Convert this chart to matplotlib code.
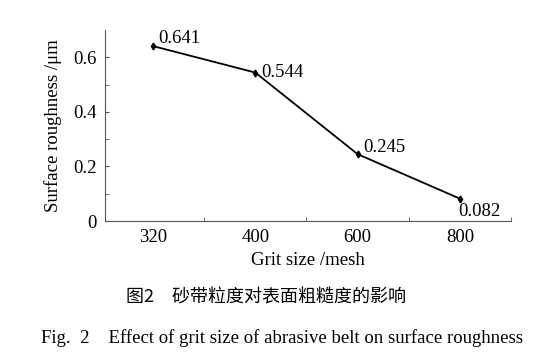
import matplotlib.pyplot as plt
from matplotlib.ticker import FixedLocator, NullFormatter

# Data
grit_labels = ['320', '400', '600', '800']
roughness = [0.641, 0.544, 0.245, 0.082]
value_labels = ['0.641', '0.544', '0.245', '0.082']
y_ticks = [0, 0.2, 0.4, 0.6]
y_tick_labels = ['0', '0.2', '0.4', '0.6']

serif = ['Liberation Serif', 'DejaVu Serif']
cjk = ['Noto Sans CJK SC', 'DejaVu Sans']
plt.rcParams['font.family'] = serif

fig = plt.figure(figsize=(5.5, 3.59), dpi=100)
ax = fig.add_axes([105 / 550, 1 - 221 / 359, (511 - 105) / 550, (221 - 30) / 359])

x = list(range(len(grit_labels)))
ax.plot(x, roughness, color='black', lw=1.3, marker='d', markersize=3.5)

# value labels next to each point
offsets = [((3.5, -1), 'left', 'bottom'),
           ((4, 0), 'left', 'center'),
           ((4, -1), 'left', 'bottom'),
           ((-1, -3), 'left', 'top')]
for xi, yi, txt, (off, ha, va) in zip(x, roughness, value_labels, offsets):
    ax.annotate(txt, (xi, yi), xytext=off, textcoords='offset points',
                ha=ha, va=va, fontsize=13.5)

ax.set_xlim(-0.47, 3.5)
ax.set_ylim(0, 0.7)

ax.set_xticks(x)
ax.set_xticklabels(grit_labels, fontsize=13.5)
ax.xaxis.set_minor_locator(FixedLocator([0.5, 1.5, 2.5, 3.5]))
ax.tick_params(axis='x', which='major', length=0, pad=6)
ax.tick_params(axis='x', which='minor', direction='in', length=3, color='#555555')

ax.set_yticks(y_ticks)
ax.set_yticklabels(y_tick_labels, fontsize=13.5)
ax.yaxis.set_minor_locator(FixedLocator([0.1, 0.3, 0.5]))
ax.yaxis.set_minor_formatter(NullFormatter())
ax.tick_params(axis='y', which='both', direction='in', length=3, color='#555555', pad=6)

for side in ['top', 'right']:
    ax.spines[side].set_visible(False)
for side in ['left', 'bottom']:
    ax.spines[side].set_color('#555555')
    ax.spines[side].set_linewidth(0.8)

ax.set_xlabel('Grit size /mesh', fontsize=13.5, labelpad=4)
ax.set_ylabel('Surface roughness /μm', fontsize=13.5, labelpad=8)

# captions
fig.text(266 / 550, 1 - 298 / 359, '图2\u3000砂带粒度对表面粗糙度的影响',
         family=cjk, fontsize=13, ha='center', va='center')
fig.text(282 / 550, 1 - 338 / 359,
         'Fig.  2    Effect of grit size of abrasive belt on surface roughness',
         fontsize=13.5, ha='center', va='center')

fig.savefig('out.png', dpi=100)
